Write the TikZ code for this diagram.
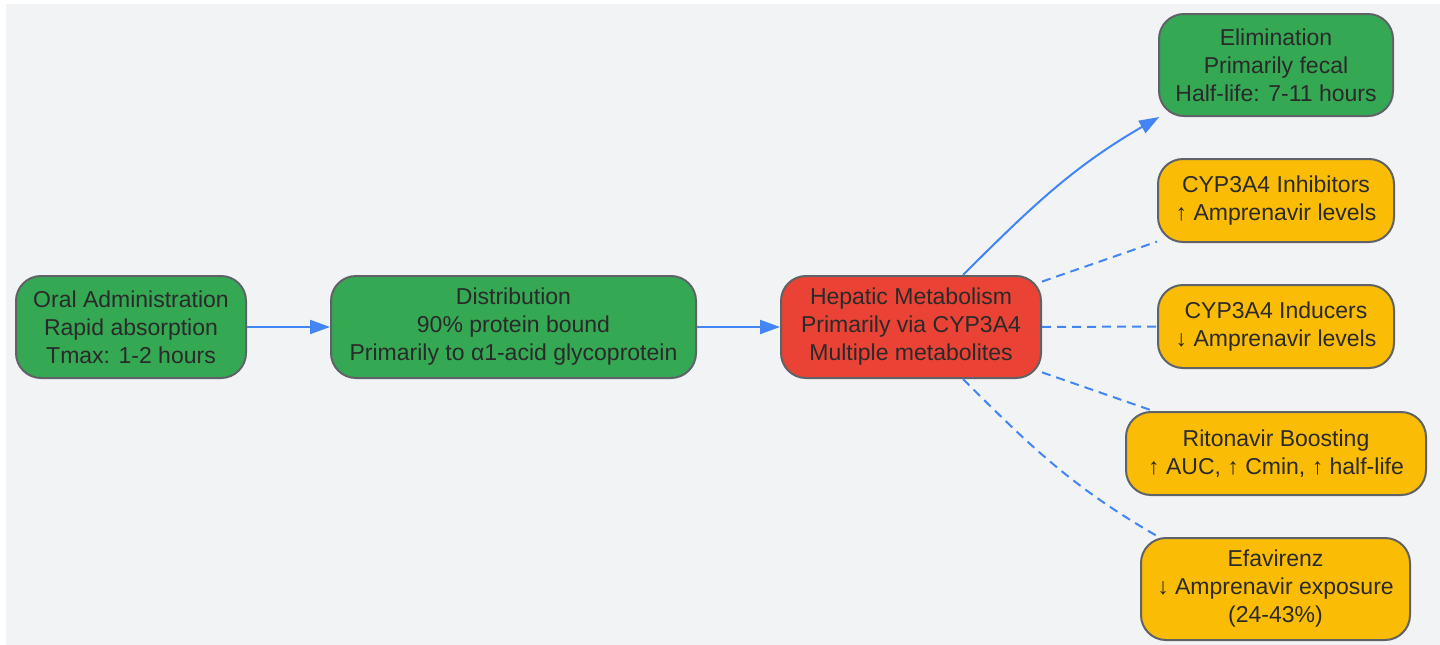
\documentclass[tikz,border=0pt]{standalone}
\usepackage{fontspec}
\setmainfont{Liberation Sans}
\usepackage{xcolor}
\usetikzlibrary{arrows.meta}
\definecolor{bggray}{HTML}{F1F3F5}
\definecolor{boxgreen}{HTML}{34A853}
\definecolor{boxred}{HTML}{EA4335}
\definecolor{boxyellow}{HTML}{FBBC05}
\definecolor{bordergray}{HTML}{5F6368}
\definecolor{linkblue}{HTML}{4285F4}
\definecolor{textgray}{HTML}{2A2A2A}
\tikzset{>={Triangle[length=20pt,width=14pt]}}

\begin{document}
\begin{tikzpicture}[x=1pt, y=-1pt,
		box/.style={draw=bordergray, line width=2pt, rounded corners=25pt, align=center, inner sep=3pt, text=textgray, font=\fontsize{23}{28}\selectfont},
		greenbox/.style={box, fill=boxgreen},
		redbox/.style={box, fill=boxred},
		yellowbox/.style={box, fill=boxyellow},
		flow/.style={draw=linkblue, line width=2pt},
		effect/.style={draw=linkblue, line width=2pt, dash pattern=on 9pt off 6pt}]
		\useasboundingbox (0,0) rectangle (1440,645);
		\fill[white] (0,0) rectangle (1440,645);
		\fill[bggray] (6,4) rectangle (1440,645);
		\node[greenbox, minimum width=230pt, minimum height=102pt] (oral) at (131,327) {Oral Administration\\Rapid absorption\\Tmax: 1-2 hours};
		\node[greenbox, minimum width=365pt, minimum height=102pt] (distrib) at (513.5,327) {Distribution\\90\% protein bound\\Primarily to α1-acid glycoprotein};
		\node[redbox, minimum width=260pt, minimum height=102pt] (hepatic) at (911,327) {Hepatic Metabolism\\Primarily via CYP3A4\\Multiple metabolites};
		\node[greenbox, minimum width=234pt, minimum height=102pt] (elim) at (1276,65) {Elimination\\Primarily fecal\\Half-life: 7-11 hours};
		\node[yellowbox, minimum width=236pt, minimum height=83pt] (inhib) at (1276,200.5) {CYP3A4 Inhibitors\\↑ Amprenavir levels};
		\node[yellowbox, minimum width=236pt, minimum height=83pt] (induc) at (1276,326.5) {CYP3A4 Inducers\\↓ Amprenavir levels};
		\node[yellowbox, minimum width=300pt, minimum height=83pt] (riton) at (1276,453.5) {Ritonavir Boosting\\↑ AUC, ↑ Cmin, ↑ half-life};
		\node[yellowbox, minimum width=269pt, minimum height=102pt] (efav) at (1275.5,589) {Efavirenz\\↓ Amprenavir exposure\\(24-43\%)};
		% main pathway
		\draw[flow, ->] (oral) -- (distrib);
		\draw[flow, ->] (distrib) -- (hepatic);
		\draw[flow, ->] (hepatic.45) to[out=45, in=210] (elim.204);
		% interactions
		\draw[effect] (hepatic) -- (inhib);
		\draw[effect] (hepatic) -- (induc);
		\draw[effect] (hepatic) -- (riton);
		\draw[effect] (hepatic.-45) to[out=-45, in=150] (efav.156);
	\end{tikzpicture}
\end{document}
